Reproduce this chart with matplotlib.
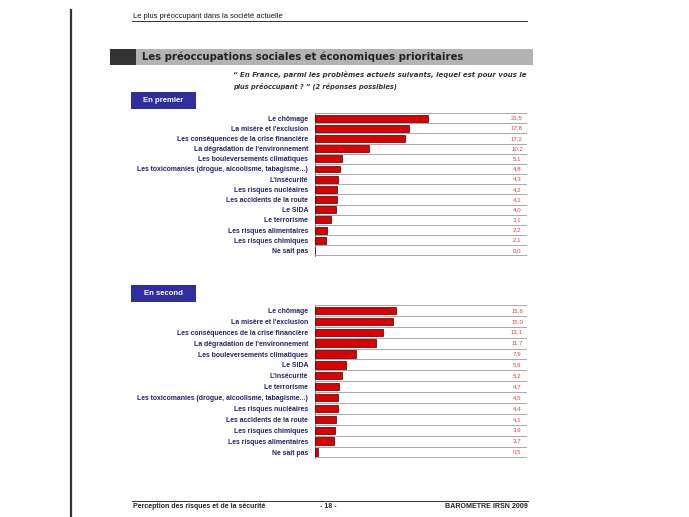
import numpy as np
import matplotlib.pyplot as plt
from matplotlib.patches import Rectangle

# data
labels_1 = ["Le chômage", "La misère et l'exclusion", "Les conséquences de la crise financière",
            "La dégradation de l'environnement", "Les bouleversements climatiques",
            "Les toxicomanies (drogue, alcoolisme, tabagisme...)", "L'insécurité",
            "Les risques nucléaires", "Les accidents de la route", "Le SIDA", "Le terrorisme",
            "Les risques alimentaires", "Les risques chimiques", "Ne sait pas"]
values_1 = [21.5, 17.8, 17.2, 10.2, 5.1, 4.8, 4.3, 4.2, 4.1, 4.0, 3.1, 2.2, 2.1, 0.0]

labels_2 = ["Le chômage", "La misère et l'exclusion", "Les conséquences de la crise financière",
            "La dégradation de l'environnement", "Les bouleversements climatiques", "Le SIDA",
            "L'insécurité", "Le terrorisme",
            "Les toxicomanies (drogue, alcoolisme, tabagisme...)", "Les risques nucléaires",
            "Les accidents de la route", "Les risques chimiques", "Les risques alimentaires",
            "Ne sait pas"]
values_2 = [15.6, 15.0, 13.1, 11.7, 7.9, 5.9, 5.2, 4.7, 4.5, 4.4, 4.1, 3.9, 3.7, 0.5]

W, H = 689, 517
FONT = "Liberation Sans"
NAVY = "#23236e"
BOX = "#2e2e9e"
RED = "#dd0000"

fig = plt.figure(figsize=(W / 100, H / 100), dpi=100)
page = fig.add_axes([0, 0, 1, 1])
page.set_xlim(0, W)
page.set_ylim(H, 0)
page.axis("off")


def px_axes(x0, y0, x1, y1):
    return fig.add_axes([x0 / W, 1 - y1 / H, (x1 - x0) / W, (y1 - y0) / H])


# page frame
page.plot([71, 71], [10, H], color="#333333", lw=1.6)
page.text(133, 19.5, "Le plus préoccupant dans la société actuelle", fontsize=5.45,
          family=FONT, color="#111111", va="bottom")
page.plot([132, 527], [21, 21], color="#333333", lw=0.7)

# title bar
page.add_patch(Rectangle((110, 49), 26, 15.5, color="#333333", lw=0))
page.add_patch(Rectangle((136, 49), 397, 15.5, color="#b3b3b3", lw=0))
page.text(142, 57, "Les préoccupations sociales et économiques prioritaires",
          fontsize=7.3, family="DejaVu Sans", weight="bold", color="#222222", va="center")

qstyle = dict(family="DejaVu Sans", style="italic", weight="bold", color="#333333",
              va="center")
page.text(233, 75, "“ En France, parmi les problèmes actuels suivants, lequel est pour vous le",
          fontsize=5.07, **qstyle)
page.text(233, 86, "plus préoccupant ? ” (2 réponses possibles)", fontsize=4.75, **qstyle)


def section(title, y_box, labels, values, y0, y1, xmax):
    page.add_patch(Rectangle((131, y_box), 65, 17, color=BOX, lw=0))
    page.text(163.5, y_box + 8.5, title, fontsize=5.6, family=FONT, weight="bold",
              color="white", ha="center", va="center")

    ax = px_axes(315, y0, 527, y1)
    n = len(values)
    y = np.arange(n)
    ax.barh(y, values, height=0.68, color=RED, edgecolor="#3a0000", linewidth=0.5, zorder=3)
    ax.set_xlim(0, xmax)
    ax.set_ylim(n - 0.45, -0.5)
    ax.set_xticks([])
    ax.set_yticks(y)
    ax.set_yticklabels(labels, fontsize=4.95, family=FONT, weight="bold", color=NAVY)
    ax.tick_params(axis="y", length=0, pad=5)
    ax.set_yticks(np.arange(-0.5, n, 1.0), minor=True)
    ax.tick_params(axis="y", which="minor", length=0)
    ax.grid(True, which="minor", axis="y", color="#9a9a9a", lw=0.6, zorder=1)
    for s in ["top", "right", "bottom"]:
        ax.spines[s].set_visible(False)
    ax.spines["left"].set_color("#b07070")
    ax.spines["left"].set_linewidth(0.7)
    for yi, v in zip(y, values):
        ax.text(0.953, yi, f"{v:.1f}".replace(".", ","), transform=ax.get_yaxis_transform(),
                fontsize=4.4, family=FONT, color="#e04040", ha="center", va="center")


section("En premier", 92, labels_1, values_1, 113, 256, 40.3)
section("En second", 285, labels_2, values_2, 305, 458, 40.8)

# footer
page.plot([132, 528], [501, 501], color="#333333", lw=0.7)
page.text(133, 506, "Perception des risques et de la sécurité", fontsize=5.0, family=FONT,
          weight="bold", color="#222222", va="center")
page.text(328, 506, "- 18 -", fontsize=5.0, family=FONT, weight="bold", color="#222222",
          ha="center", va="center")
page.text(528, 506, "BAROMETRE IRSN 2009", fontsize=5.1, family=FONT, weight="bold",
          color="#222222", ha="right", va="center")

fig.savefig("out.png", dpi=100)
